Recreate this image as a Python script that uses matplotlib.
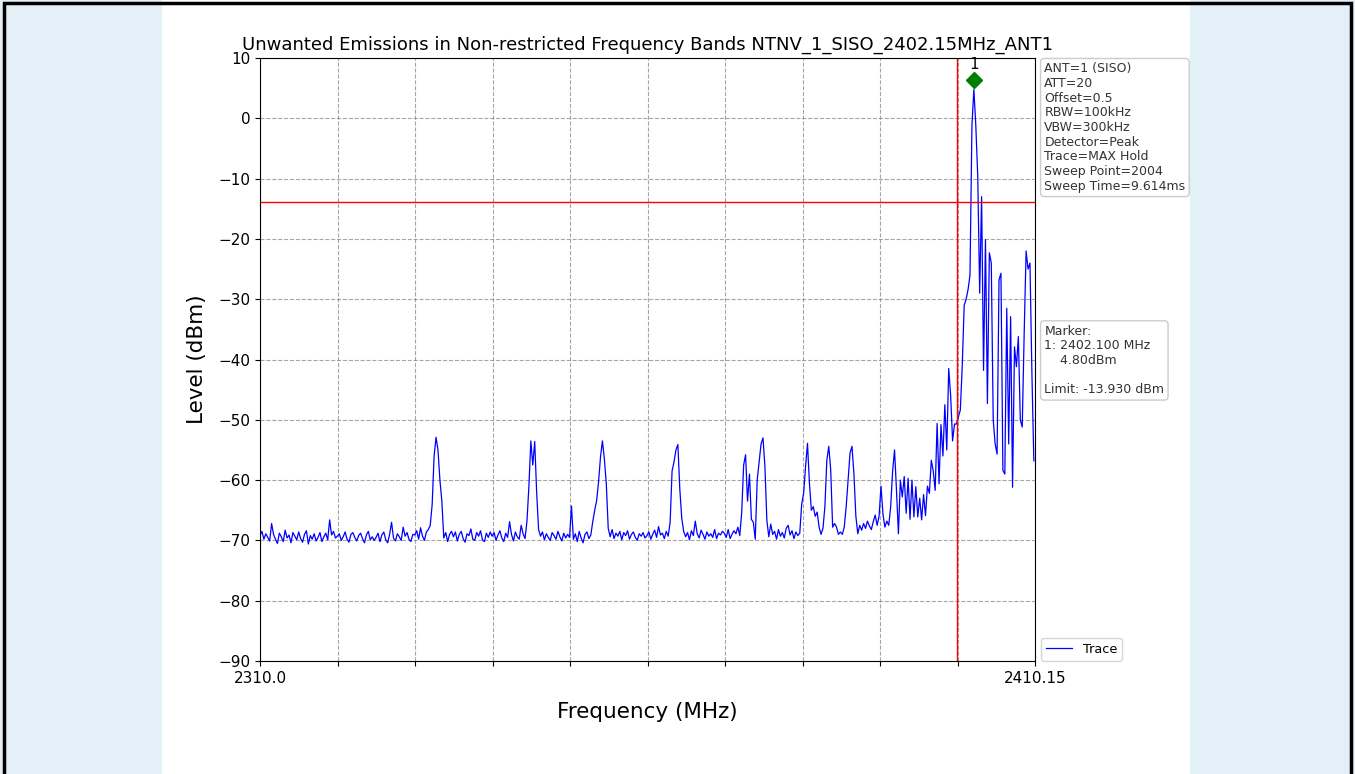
import matplotlib
matplotlib.use('Agg')
import matplotlib.pyplot as plt
from matplotlib.patches import Rectangle
import numpy as np

title = 'Unwanted Emissions in Non-restricted Frequency Bands NTNV_1_SISO_2402.15MHz_ANT1'
f_start = 2310.0
f_stop = 2410.15
f_step = 0.25          # trace every 0.25 MHz
limit_dbm = -13.930
band_edge = 2400.1
marker_freq = 2402.100
marker_level = 4.80

settings = ['ANT=1 (SISO)', 'ATT=20', 'Offset=0.5', 'RBW=100kHz', 'VBW=300kHz',
            'Detector=Peak', 'Trace=MAX Hold', 'Sweep Point=2004', 'Sweep Time=9.614ms']

# one row = 5 MHz
level = [
    -69.2, -68.5, -69.8, -68.9, -69.5, -70.1, -67.2, -69.0, -69.8, -70.5, -68.8, -69.4, -70.2, -68.3, -69.6, -69.1, -70.4, -68.7, -69.3, -69.9,
    -68.6, -69.7, -70.3, -69.0, -68.4, -70.6, -69.2, -69.8, -68.9, -70.1, -69.5, -68.7, -70.2, -69.4, -68.8, -69.9, -66.6, -69.1, -68.5, -69.6,
    -69.3, -68.9, -70.0, -69.4, -68.6, -69.8, -70.3, -69.0, -68.7, -69.5, -70.1, -69.2, -68.8, -69.7, -70.4, -69.1, -68.5, -69.9, -69.4, -70.0,
    -69.5, -68.8, -70.2, -69.1, -68.6, -69.9, -70.4, -69.0, -67.0, -69.6, -70.1, -68.9, -69.4, -70.0, -67.8, -69.3, -68.7, -69.8, -70.2, -69.0,
    -69.1, -68.4, -69.8, -67.9, -69.3, -70.0, -68.6, -68.2, -67.5, -64.0, -56.0, -52.9, -55.0, -60.0, -63.5, -69.6, -68.7, -70.2, -69.0, -68.5,
    -69.4, -68.6, -70.1, -69.0, -68.5, -69.7, -70.3, -68.9, -69.2, -68.1, -69.8, -70.0, -68.7, -69.3, -68.4, -69.9, -70.2, -68.8, -69.5, -68.6,
    -69.3, -68.7, -70.0, -69.1, -68.4, -69.6, -70.2, -68.8, -69.5, -66.9, -69.0, -70.1, -68.6, -69.4, -69.8, -67.5, -68.9, -69.7, -66.8, -61.0,
    -53.5, -57.5, -53.6, -62.0, -68.2, -69.3, -68.6, -69.9, -68.9, -69.5, -70.0, -68.7, -69.2, -69.8, -68.5, -69.4, -70.1, -68.8, -69.6, -69.0,
    -69.5, -64.3, -69.8, -68.9, -70.2, -68.5, -69.6, -70.4, -69.0, -68.6, -69.7, -69.1, -66.9, -65.0, -63.4, -60.3, -56.2, -53.5, -56.5, -60.6,
    -68.0, -69.4, -68.2, -69.7, -68.8, -69.3, -68.5, -69.9, -68.7, -69.2, -68.4, -69.8, -69.0, -68.6, -69.5, -70.0, -68.9, -69.3, -68.7, -69.6,
    -69.2, -68.6, -69.8, -69.0, -68.3, -69.5, -67.7, -69.1, -68.8, -69.7, -68.5, -69.3, -67.0, -58.5, -57.0, -55.0, -54.1, -61.5, -66.3, -68.5,
    -69.4, -68.7, -69.9, -68.4, -69.2, -66.8, -68.9, -69.6, -68.3, -69.0, -69.8, -68.6, -69.3, -68.9, -69.5, -68.2, -69.7, -68.8, -69.1, -68.5,
    -68.8, -69.5, -68.2, -69.7, -69.0, -68.4, -68.9, -67.8, -69.2, -65.3, -57.5, -55.8, -63.5, -59.0, -66.5, -67.0, -69.8, -60.0, -57.0, -54.0,
    -53.0, -57.8, -66.7, -69.4, -67.3, -69.0, -68.5, -69.8, -68.2, -69.3, -68.7, -69.6, -68.0, -67.5, -69.1, -68.4, -69.7, -68.6, -69.2, -68.8,
    -64.0, -62.2, -57.8, -53.9, -60.5, -65.0, -64.4, -66.0, -65.3, -67.8, -69.0, -68.0, -64.4, -56.7, -54.4, -58.3, -67.8, -67.2, -67.8, -69.0,
    -68.6, -69.0, -67.8, -64.4, -60.0, -55.5, -54.4, -59.0, -66.0, -68.9, -67.5, -68.3, -67.2, -68.0, -66.8, -67.6, -68.2, -66.9, -65.8, -67.5,
    -66.0, -61.0, -65.6, -67.8, -66.8, -67.5, -64.4, -58.5, -55.0, -61.7, -68.9, -60.0, -62.8, -59.4, -65.5, -59.7, -66.5, -60.0, -66.1, -61.1,
    -66.1, -63.0, -66.6, -62.4, -65.9, -61.0, -62.2, -56.7, -58.5, -61.7, -50.6, -60.6, -50.8, -56.0, -47.5, -55.0, -41.5, -46.0, -53.5, -50.7,
    -50.7, -49.5, -48.4, -41.0, -31.0, -30.0, -28.4, -26.0, -1.2, 4.8, -1.2, -9.5, -29.0, -13.0, -41.8, -20.1, -47.3, -22.3, -24.0, -50.0,
    -54.0, -55.7, -26.8, -25.7, -58.4, -59.0, -31.5, -54.0, -32.9, -61.2, -37.9, -41.2, -36.2, -50.0, -51.2, -35.7, -22.0, -25.0, -24.0, -42.3,
    -56.8,
]

freq = f_start + f_step * np.arange(len(level))
level = np.array(level)

fig = plt.figure(figsize=(13.55, 7.74), dpi=100)
fig.patch.set_facecolor('#e3f0f7')
fig.patches.append(Rectangle((162 / 1355, 0), 1028 / 1355, 1, transform=fig.transFigure,
                             facecolor='white', edgecolor='none', zorder=-10))
fig.patches.append(Rectangle((4 / 1355, -0.01), 1347 / 1355, 1 - 3 / 774 + 0.01, transform=fig.transFigure,
                             facecolor='none', edgecolor='black', linewidth=2.5, zorder=5))

ax = fig.add_axes([260 / 1355, 1 - 661 / 774, 775 / 1355, 603 / 774])
ax.plot(freq, level, color='blue', linewidth=0.9, label='Trace')
ax.axhline(limit_dbm, color='red', linewidth=1)
ax.axvline(band_edge, color='red', linewidth=1)

i_pk = int(np.argmax(level))
ax.plot(freq[i_pk], level[i_pk] + 1.6, marker='D', color='green', markersize=8, linestyle='none')
ax.text(freq[i_pk], level[i_pk] + 2.8, '1', ha='center', va='bottom', fontsize=11)

ax.set_xlim(f_start, f_stop)
ax.set_ylim(-90, 10)
xt = np.linspace(f_start, f_stop, 11)
ax.set_xticks(xt)
ax.set_xticklabels(['2310.0'] + [''] * 9 + ['2410.15'])
ax.set_yticks(np.arange(-90, 11, 10))
ax.tick_params(labelsize=11)
ax.grid(True, linestyle='--', color='gray', alpha=0.7, linewidth=0.8)

ax.set_title(title, fontsize=13)
ax.set_xlabel('Frequency (MHz)', fontsize=15.5, labelpad=12)
ax.set_ylabel('Level (dBm)', fontsize=15.5, labelpad=8)

box = dict(boxstyle='round,pad=0.3', facecolor='white', edgecolor='#cccccc')
ax.text(1.012, 0.993, '\n'.join(settings), transform=ax.transAxes, va='top', ha='left',
        fontsize=9, linespacing=1.17, color='#333333', bbox=box)
marker_txt = 'Marker:\n1: %.3f MHz\n    %.2fdBm\n\nLimit: %.3f dBm' % (marker_freq, marker_level, limit_dbm)
ax.text(1.012, 0.558, marker_txt, transform=ax.transAxes, va='top', ha='left',
        fontsize=9, linespacing=1.17, color='#333333', bbox=box)
ax.legend(loc='lower left', bbox_to_anchor=(1.008, 0.0), fontsize=9.3, borderaxespad=0.0)

fig.savefig('out.png', dpi=100, facecolor=fig.get_facecolor())
